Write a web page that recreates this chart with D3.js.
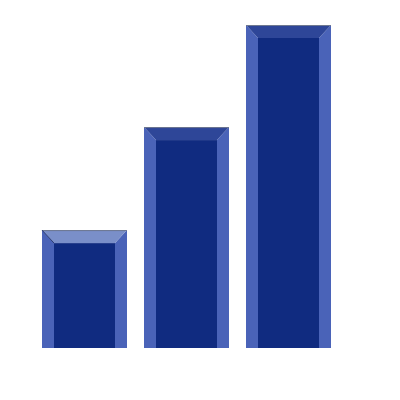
<!DOCTYPE html>
<html>
<head>
<meta charset="utf-8">
<script src="https://cdn.jsdelivr.net/npm/d3@7"></script>
<style>
  body { margin: 0; background: #fff; }
</style>
</head>
<body>
<div id="chart"></div>
<script>
var width = 400;
var height = 400;

var categories = ["A", "B", "C"];
var values = [36.5, 68.4, 100];
var topColors = ["#7a8fc9", "#2e4698", "#2e4698"];

var bevelX = 12;
var bevelY = 13;

var xScale = d3.scaleBand()
  .domain(categories)
  .range([25, 348])
  .padding(1 / 6);

var yScale = d3.scaleLinear()
  .domain([0, 100])
  .range([348, 25]);

var svg = d3.select("#chart")
  .append("svg")
  .attr("width", width)
  .attr("height", height);

var bars = svg.selectAll(".bar")
  .data(categories)
  .enter()
  .append("g")
  .attr("class", "bar");

function pts(arr) {
  return arr.map(p => p.join(",")).join(" ");
}

bars.each(function(d, i) {
  var g = d3.select(this);
  var x0 = xScale(d);
  var x1 = x0 + xScale.bandwidth();
  var y0 = yScale(values[i]);
  var y1 = yScale(0);

  // inner face
  g.append("rect")
    .attr("x", x0 + bevelX)
    .attr("y", y0 + bevelY)
    .attr("width", x1 - x0 - 2 * bevelX)
    .attr("height", y1 - y0 - bevelY)
    .style("fill", "#102b80");

  // left bevel
  g.append("polygon")
    .attr("points", pts([[x0, y0], [x0 + bevelX, y0 + bevelY], [x0 + bevelX, y1], [x0, y1]]))
    .style("fill", "#4a63b8");

  // right bevel
  g.append("polygon")
    .attr("points", pts([[x1, y0], [x1, y1], [x1 - bevelX, y1], [x1 - bevelX, y0 + bevelY]]))
    .style("fill", "#4a63b8");

  // top bevel
  g.append("polygon")
    .attr("points", pts([[x0, y0], [x1, y0], [x1 - bevelX, y0 + bevelY], [x0 + bevelX, y0 + bevelY]]))
    .style("fill", topColors[i]);

  // thin grey top edge
  g.append("line")
    .attr("x1", x0)
    .attr("x2", x1)
    .attr("y1", y0 + 0.5)
    .attr("y2", y0 + 0.5)
    .style("stroke", "#6e7890")
    .style("stroke-width", 1);

  if (i == 0) {
    g.append("line")
      .attr("x1", x0)
      .attr("y1", y0)
      .attr("x2", x0 + bevelX)
      .attr("y2", y0 + bevelY)
      .style("stroke", "#2a3a70")
      .style("stroke-width", 1);
  }
});
</script>
</body>
</html>
